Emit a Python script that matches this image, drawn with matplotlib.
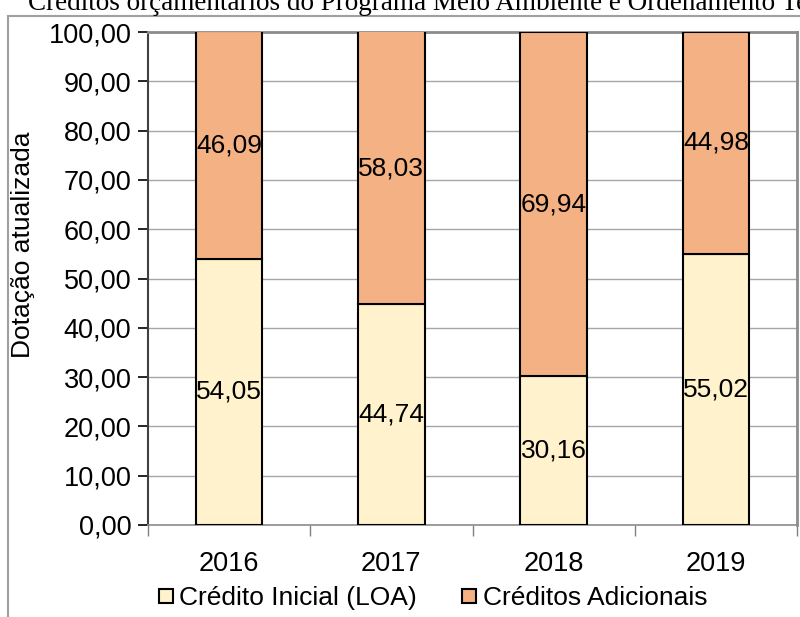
import matplotlib.pyplot as plt
from matplotlib.ticker import FuncFormatter, FixedLocator
from matplotlib.lines import Line2D
from matplotlib.patches import Rectangle

anos = ['2016', '2017', '2018', '2019']
credito_inicial = [54.05, 44.74, 30.16, 55.02]
creditos_adicionais = [46.09, 58.03, 69.94, 44.98]

cor_inicial = '#FFF2CC'
cor_adicional = '#F4B183'

plt.rcParams['font.family'] = ['Liberation Sans', 'DejaVu Sans']

fig = plt.figure(figsize=(8, 6.17), dpi=100)
ax = fig.add_axes([148 / 800, 1 - 525 / 617, 649 / 800, 493 / 617])

x = list(range(len(anos)))
b1 = ax.bar(x, credito_inicial, width=0.41, color=cor_inicial, edgecolor='black', linewidth=1.5, zorder=3)
b2 = ax.bar(x, creditos_adicionais, width=0.41, bottom=credito_inicial, color=cor_adicional,
            edgecolor='black', linewidth=1.5, zorder=3)

def virgula(v):
    return f"{v:.2f}".replace('.', ',')

ax.bar_label(b1, labels=[virgula(v) for v in credito_inicial], label_type='center', fontsize=19, zorder=4)
ax.bar_label(b2, labels=[virgula(v) for v in creditos_adicionais], label_type='center', fontsize=19, zorder=4)

ax.set_ylim(0, 100)
ax.set_xlim(-0.5, 3.5)
ax.set_yticks(range(0, 101, 10))
ax.yaxis.set_major_formatter(FuncFormatter(lambda v, p: virgula(v)))
ax.set_xticks(x)
ax.set_xticklabels(anos)
ax.xaxis.set_minor_locator(FixedLocator([-0.5, 0.5, 1.5, 2.5, 3.5]))
ax.tick_params(axis='x', which='major', length=0, labelsize=19.5, pad=19)
ax.tick_params(axis='x', which='minor', length=8, color='#808080', width=1)
ax.tick_params(axis='y', length=7, width=1.2, color='black', labelsize=19.5, pad=5)

ax.grid(axis='y', color='#A6A6A6', linewidth=1, zorder=0)
ax.spines['left'].set_color('#404040')
ax.spines['left'].set_linewidth(1.5)
for s in ['top', 'right', 'bottom']:
    ax.spines[s].set_color('#8C8C8C')
    ax.spines[s].set_linewidth(2)
ax.spines['bottom'].set_linewidth(1.2)

ax.set_ylabel('Dotação atualizada', fontsize=19)
ax.yaxis.set_label_coords(-0.174, 0.568)

handles = [
    Line2D([], [], marker='s', linestyle='none', markersize=10.5, markerfacecolor=cor_inicial,
           markeredgecolor='black', markeredgewidth=1.5),
    Line2D([], [], marker='s', linestyle='none', markersize=10.5, markerfacecolor=cor_adicional,
           markeredgecolor='black', markeredgewidth=1.5),
]
fig.legend(handles, ['Crédito Inicial (LOA)', 'Créditos Adicionais'], loc='center',
           bbox_to_anchor=(433 / 800, 1 - 598 / 617), ncol=2, frameon=False, fontsize=19,
           handlelength=0.55, handletextpad=0.25, columnspacing=1.7)

fig.add_artist(Rectangle((8 / 800, -0.1), 1.0, 1.1 - 16 / 617, transform=fig.transFigure,
                         fill=False, edgecolor='#A0A0A0', linewidth=1.5))

fig.text(28 / 800, 1 - 10 / 617,
         'Créditos orçamentários do Programa Meio Ambiente e Ordenamento Territorial',
         fontsize=19.5, family=['Liberation Serif', 'DejaVu Serif'], va='baseline', ha='left')

fig.savefig('out.png', dpi=100)
